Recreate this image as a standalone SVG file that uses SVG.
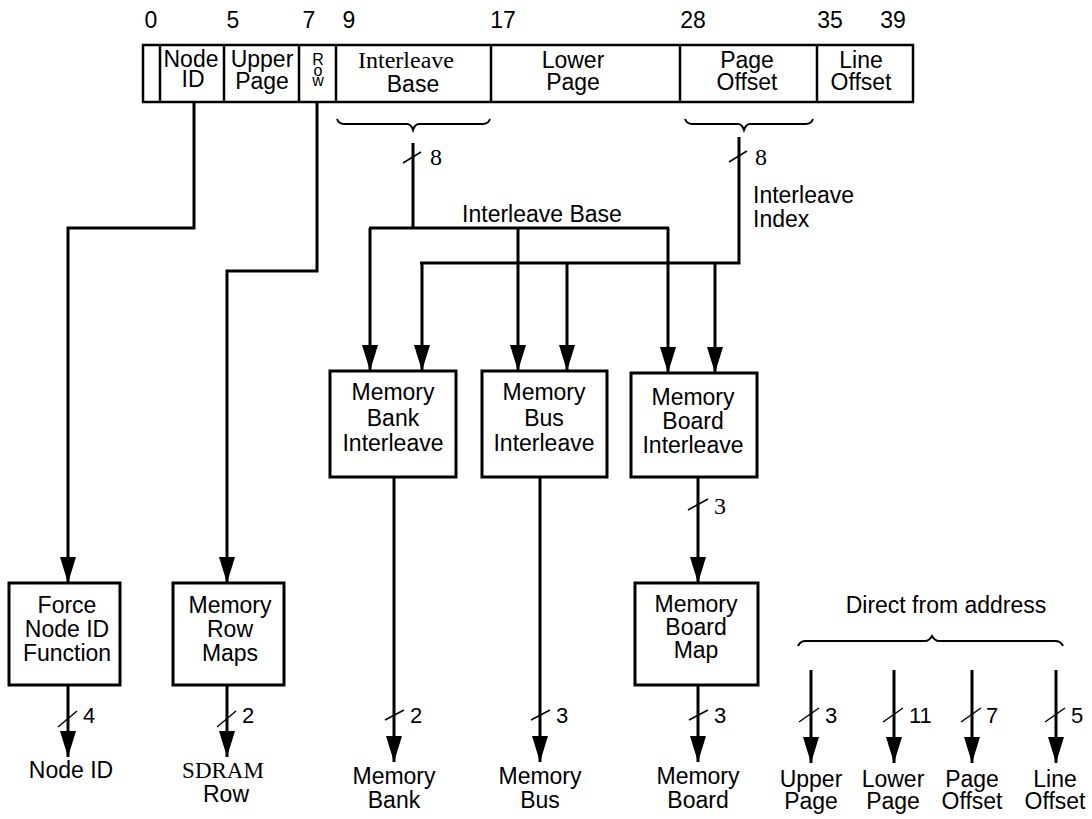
<svg xmlns="http://www.w3.org/2000/svg" width="1092" height="819" viewBox="0 0 1092 819">
<style>
text{font-family:"Liberation Sans",Arial,sans-serif;font-size:23px;fill:#000;text-anchor:middle}
.serif{font-family:"Liberation Serif","Times New Roman",serif}
.lbl{font-size:22px;text-anchor:start}
.slbl{font-size:24px;text-anchor:start}
.rw{font-size:16px}
.box{fill:#fff;stroke:#000;stroke-width:3}
.reg{fill:#fff;stroke:#000;stroke-width:2.5}
.ln{fill:none;stroke:#000;stroke-width:3}
.arr{fill:none;stroke:#000;stroke-width:3;marker-end:url(#ah)}
.sl{stroke:#000;stroke-width:1.5}
.br{fill:none;stroke:#000;stroke-width:2}
</style>
<defs>
<marker id="ah" markerUnits="userSpaceOnUse" markerWidth="26" markerHeight="16" refX="26" refY="8" orient="auto" viewBox="0 0 26 16">
<path d="M0,0 L26,8 L0,16 z" fill="#000"/>
</marker>
</defs>
<rect width="1092" height="819" fill="#fff"/>

<g id="bit-numbers">
<text x="151" y="28">0</text>
<text x="233" y="28">5</text>
<text x="309" y="28">7</text>
<text x="349" y="28">9</text>
<text x="503" y="28">17</text>
<text x="693" y="28">28</text>
<text x="830" y="28">35</text>
<text x="893" y="28">39</text>
</g>

<g id="register">
<rect class="reg" x="143" y="45" width="770" height="57"/>
<line class="reg" x1="160" y1="45" x2="160" y2="102"/>
<line class="reg" x1="224" y1="45" x2="224" y2="102"/>
<line class="reg" x1="299" y1="45" x2="299" y2="102"/>
<line class="reg" x1="336" y1="45" x2="336" y2="102"/>
<line class="reg" x1="491" y1="45" x2="491" y2="102"/>
<line class="reg" x1="680" y1="45" x2="680" y2="102"/>
<line class="reg" x1="817" y1="45" x2="817" y2="102"/>
<text x="191" y="67">Node</text><text x="193" y="87">ID</text>
<text x="262" y="67">Upper</text><text x="262" y="89">Page</text>
<text class="rw" x="318" y="65">R</text>
<text class="rw" x="318" y="75.5">o</text>
<text class="rw" x="318" y="86">w</text>
<text class="serif" x="406" y="68" style="font-size:24px">Interleave</text>
<text x="413" y="92">Base</text>
<text x="573" y="68">Lower</text><text x="573" y="90">Page</text>
<text x="747" y="68">Page</text><text x="747" y="90">Offset</text>
<text x="861" y="68">Line</text><text x="861" y="90">Offset</text>
</g>

<g id="braces">
<path class="br" d="M337,119 Q339,124 344,124 L407,124 Q411,124 413,130 Q415,124 419,124 L483,124 Q488,124 490,119"/>
<path class="br" d="M685,119 Q687,124 692,124 L738,124 Q742,124 744,130 Q746,124 750,124 L806,124 Q811,124 813,119"/>
<path class="br" d="M798,646 Q800,641 806,641 L925,641 Q929,641 932,636 Q935,641 939,641 L1055,641 Q1061,641 1063,646"/>
<text x="946" y="613">Direct from address</text>
</g>

<g id="connectors">
<polyline class="arr" points="194,102 194,228 68,228 68,583"/>
<polyline class="arr" points="317,102 317,271 227,271 227,583"/>
<line class="ln" x1="413" y1="143" x2="413" y2="228"/>
<line class="ln" x1="369" y1="228" x2="669" y2="228"/>
<line class="arr" x1="370" y1="228" x2="370" y2="371"/>
<line class="arr" x1="518" y1="228" x2="518" y2="371"/>
<line class="arr" x1="668" y1="228" x2="668" y2="373"/>
<polyline class="ln" points="739,137 739,263 420,263"/>
<line class="arr" x1="422" y1="263" x2="422" y2="371"/>
<line class="arr" x1="567" y1="263" x2="567" y2="371"/>
<line class="arr" x1="715" y1="263" x2="715" y2="373"/>
<line class="arr" x1="698" y1="477" x2="698" y2="583"/>
<line class="arr" x1="68" y1="685" x2="68" y2="757"/>
<line class="arr" x1="227" y1="685" x2="227" y2="757"/>
<line class="arr" x1="394" y1="477" x2="394" y2="762"/>
<line class="arr" x1="540" y1="477" x2="540" y2="762"/>
<line class="arr" x1="698" y1="685" x2="698" y2="762"/>
<line class="arr" x1="811" y1="670" x2="811" y2="763"/>
<line class="arr" x1="894" y1="670" x2="894" y2="763"/>
<line class="arr" x1="972" y1="670" x2="972" y2="763"/>
<line class="arr" x1="1056" y1="670" x2="1056" y2="763"/>
<g id="slashes">
<line class="sl" x1="403" y1="163" x2="421" y2="152"/>
<line class="sl" x1="729" y1="162" x2="747" y2="151"/>
<line class="sl" x1="688" y1="510" x2="708" y2="499"/>
<line class="sl" x1="58" y1="727" x2="77" y2="711"/>
<line class="sl" x1="217" y1="727" x2="236" y2="711"/>
<line class="sl" x1="385" y1="720" x2="404" y2="710"/>
<line class="sl" x1="531" y1="720" x2="550" y2="710"/>
<line class="sl" x1="689" y1="720" x2="708" y2="710"/>
<line class="sl" x1="799" y1="722" x2="819" y2="708"/>
<line class="sl" x1="883" y1="722" x2="903" y2="708"/>
<line class="sl" x1="961" y1="722" x2="981" y2="708"/>
<line class="sl" x1="1045" y1="722" x2="1065" y2="708"/>
</g>
<text class="serif slbl" x="430" y="165">8</text>
<text class="serif slbl" x="755" y="165">8</text>
<text class="serif slbl" x="714" y="514">3</text>
<text class="lbl" x="83" y="723">4</text>
<text class="lbl" x="242" y="723">2</text>
<text class="lbl" x="410" y="723">2</text>
<text class="lbl" x="556" y="723">3</text>
<text class="lbl" x="714" y="723">3</text>
<text class="lbl" x="825" y="723">3</text>
<text class="lbl" x="909" y="723">11</text>
<text class="lbl" x="986" y="723">7</text>
<text class="lbl" x="1071" y="723">5</text>
<text x="542" y="222">Interleave Base</text>
<text x="753" y="203" style="text-anchor:start">Interleave</text>
<text x="753" y="227" style="text-anchor:start">Index</text>
</g>

<g id="force-node-id">
<rect class="box" x="9" y="583" width="111" height="102"/>
<text x="67" y="613">Force</text><text x="67" y="637">Node ID</text><text x="67" y="661">Function</text>
</g>
<g id="memory-row-maps">
<rect class="box" x="173" y="583" width="111" height="102"/>
<text x="230" y="613">Memory</text><text x="230" y="637">Row</text><text x="230" y="661">Maps</text>
</g>
<g id="memory-bank-interleave">
<rect class="box" x="330" y="371" width="126" height="106"/>
<text x="393" y="400">Memory</text><text x="393" y="426">Bank</text><text x="393" y="451">Interleave</text>
</g>
<g id="memory-bus-interleave">
<rect class="box" x="482" y="371" width="125" height="106"/>
<text x="544" y="400">Memory</text><text x="544" y="426">Bus</text><text x="544" y="451">Interleave</text>
</g>
<g id="memory-board-interleave">
<rect class="box" x="631" y="373" width="126" height="104"/>
<text x="693" y="405">Memory</text><text x="693" y="429">Board</text><text x="693" y="453">Interleave</text>
</g>
<g id="memory-board-map">
<rect class="box" x="635" y="583" width="123" height="102"/>
<text x="696" y="612">Memory</text><text x="696" y="635">Board</text><text x="696" y="658">Map</text>
</g>

<g id="outputs">
<text x="71" y="778">Node ID</text>
<text class="serif" x="223" y="778">SDRAM</text><text x="226" y="802">Row</text>
<text x="394" y="784">Memory</text><text x="394" y="808">Bank</text>
<text x="540" y="784">Memory</text><text x="540" y="808">Bus</text>
<text x="698" y="784">Memory</text><text x="698" y="808">Board</text>
<text x="811" y="787">Upper</text><text x="811" y="809">Page</text>
<text x="893" y="787">Lower</text><text x="893" y="809">Page</text>
<text x="972" y="787">Page</text><text x="972" y="809">Offset</text>
<text x="1055" y="787">Line</text><text x="1055" y="809">Offset</text>
</g>
</svg>
